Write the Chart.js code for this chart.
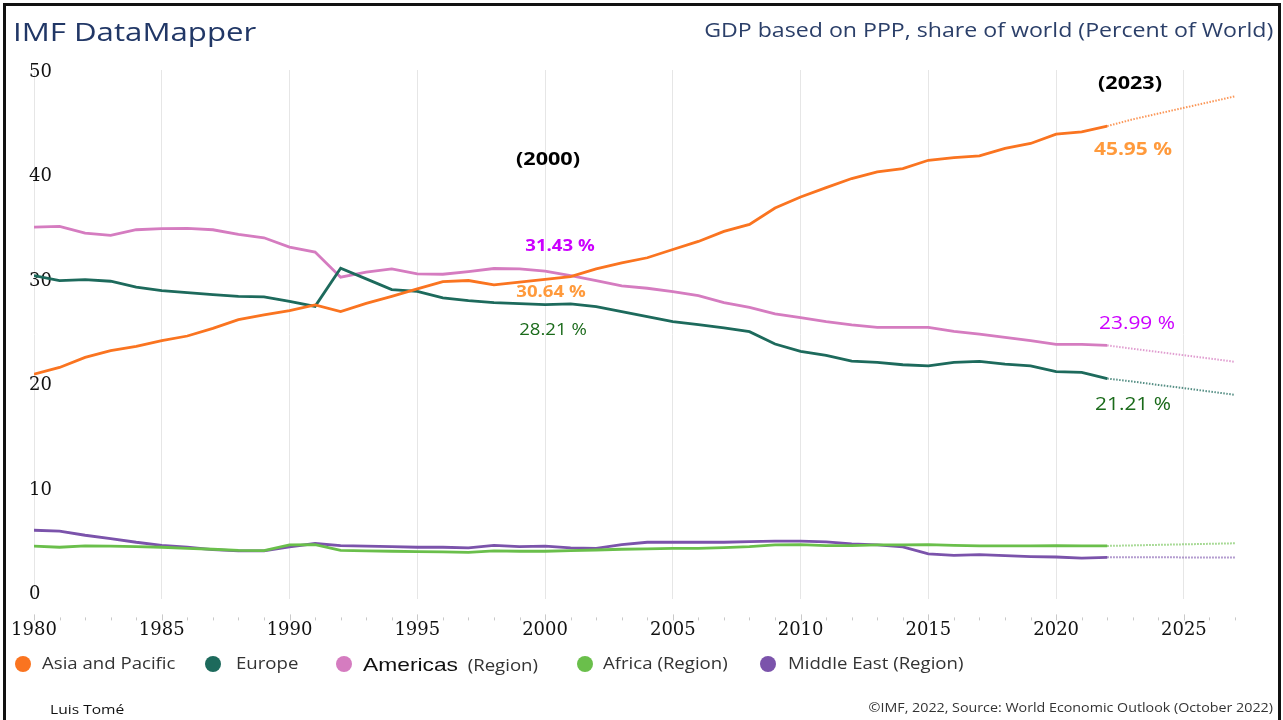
<!DOCTYPE html>
<html>
<head>
<meta charset="utf-8">
<title>GDP based on PPP, share of world</title>
<script src="https://cdn.jsdelivr.net/npm/chart.js@4.4.0/dist/chart.umd.min.js"></script>
<style>
  html, body { margin: 0; padding: 0; background: #fff; }
  #page { position: relative; width: 1283px; height: 720px; overflow: hidden; font-family: "Open Sans", sans-serif; }
  #frame { position: absolute; left: 3px; top: 3px; width: 1278px; height: 800px; border: 3px solid #111; box-sizing: border-box; pointer-events: none; }
  #chart { position: absolute; left: 0; top: 0; }
  .txt { position: absolute; white-space: nowrap; line-height: 1; }
  .ctr { transform: translate(-50%, -50%) scaleX(1.2); transform-origin: center center; }
  .lft { transform: translateY(-50%) scaleX(1.2); transform-origin: left center; }
  .rgt { transform: translateY(-50%) scaleX(1.2); transform-origin: right center; }
  .dot { position: absolute; width: 16px; height: 16px; border-radius: 50%; transform: translate(-50%, -50%); }
</style>
</head>
<body>
<div id="page">
  <canvas id="chart" width="1283" height="720"></canvas>

  <div class="txt lft" style="left:13px; top:31px; font-size:26px; color:#213766;">IMF DataMapper</div>
  <div class="txt rgt" style="right:10px; top:30px; font-size:19.3px; color:#2b3f69;">GDP based on PPP, share of world (Percent of World)</div>

  <div class="txt ctr" style="left:548px; top:158px; font-size:18px; font-weight:700; color:#000;">(2000)</div>
  <div class="txt ctr" style="left:1130px; top:82px; font-size:18px; font-weight:700; color:#000;">(2023)</div>
  <div class="txt ctr" style="left:560px; top:246px; font-size:15.5px; font-weight:700; color:#cc00ff;">31.43 %</div>
  <div class="txt ctr" style="left:551px; top:292px; font-size:15.5px; font-weight:700; color:#ff9a3c;">30.64 %</div>
  <div class="txt ctr" style="left:553px; top:330px; font-size:15.5px; color:#1a6a1a;">28.21 %</div>
  <div class="txt ctr" style="left:1133px; top:149px; font-size:17.4px; font-weight:700; color:#ff9a3c;">45.95 %</div>
  <div class="txt ctr" style="left:1137px; top:323px; font-size:17.4px; color:#cc00ff;">23.99 %</div>
  <div class="txt ctr" style="left:1133px; top:404px; font-size:17.4px; color:#1a6a1a;">21.21 %</div>

  <div id="legend"></div>

  <div class="txt lft" style="left:50px; top:709px; font-size:13px; color:#111;">Luis Tomé</div>
  <div class="txt rgt" style="right:10px; top:708px; font-size:11.9px; color:#333;">©IMF, 2022, Source: World Economic Outlook (October 2022)</div>
  <div id="frame"></div>
</div>

<script>
// years on the x axis, last actual value is 2022, after that IMF projections
const years = [
  1980, 1981, 1982, 1983, 1984, 1985, 1986, 1987, 1988, 1989,
  1990, 1991, 1992, 1993, 1994, 1995, 1996, 1997, 1998, 1999,
  2000, 2001, 2002, 2003, 2004, 2005, 2006, 2007, 2008, 2009,
  2010, 2011, 2012, 2013, 2014, 2015, 2016, 2017, 2018, 2019,
  2020, 2021, 2022, 2023, 2024, 2025, 2026, 2027
];
const lastActual = 2022;

const asiaPacific = [
  21.56, 22.20, 23.16, 23.80, 24.21, 24.76, 25.21, 25.94, 26.78, 27.23,
  27.64, 28.19, 27.54, 28.34, 29.01, 29.72, 30.42, 30.52, 30.10, 30.36,
  30.64, 30.90, 31.64, 32.21, 32.70, 33.49, 34.26, 35.22, 35.89, 37.46,
  38.51, 39.41, 40.28, 40.91, 41.24, 42.03, 42.29, 42.45, 43.16, 43.64,
  44.53, 44.75, 45.30, 45.95, 46.50, 47.05, 47.60, 48.15
];
const europe = [
  31.00, 30.52, 30.61, 30.45, 29.88, 29.56, 29.37, 29.17, 29.01, 28.95,
  28.53, 28.05, 31.70, 30.68, 29.65, 29.49, 28.86, 28.60, 28.41, 28.31,
  28.21, 28.28, 28.02, 27.54, 27.06, 26.58, 26.30, 25.98, 25.62, 24.44,
  23.73, 23.35, 22.81, 22.68, 22.46, 22.36, 22.68, 22.78, 22.52, 22.36,
  21.81, 21.72, 21.14, 20.85, 20.53, 20.22, 19.90, 19.58
];
const americas = [
  35.63, 35.70, 35.06, 34.84, 35.38, 35.48, 35.51, 35.38, 34.93, 34.61,
  33.72, 33.24, 30.84, 31.32, 31.64, 31.16, 31.12, 31.38, 31.67, 31.64,
  31.43, 31.00, 30.52, 30.00, 29.78, 29.46, 29.08, 28.41, 27.96, 27.32,
  26.97, 26.58, 26.27, 26.04, 26.04, 26.04, 25.66, 25.40, 25.08, 24.76,
  24.41, 24.41, 24.31, 23.99, 23.68, 23.37, 23.06, 22.74
];
const africa = [
  5.09, 4.99, 5.12, 5.09, 5.05, 4.99, 4.89, 4.80, 4.70, 4.67,
  5.21, 5.25, 4.70, 4.64, 4.61, 4.58, 4.54, 4.51, 4.64, 4.61,
  4.61, 4.67, 4.73, 4.80, 4.83, 4.89, 4.89, 4.96, 5.05, 5.21,
  5.25, 5.15, 5.15, 5.21, 5.21, 5.25, 5.18, 5.12, 5.12, 5.12,
  5.15, 5.12, 5.12, 5.17, 5.22, 5.27, 5.32, 5.37
];
const middleEast = [
  6.62, 6.53, 6.14, 5.82, 5.47, 5.18, 4.99, 4.77, 4.64, 4.64,
  5.02, 5.35, 5.15, 5.09, 5.05, 4.99, 4.99, 4.93, 5.18, 5.05,
  5.09, 4.93, 4.89, 5.25, 5.47, 5.47, 5.47, 5.47, 5.53, 5.57,
  5.57, 5.50, 5.31, 5.21, 5.02, 4.35, 4.22, 4.29, 4.19, 4.10,
  4.06, 3.96, 4.03, 4.03, 4.03, 4.02, 4.02, 4.02
];

const seriesNames = ['Asia and Pacific', 'Europe', 'Americas (Region)', 'Africa (Region)', 'Middle East (Region)'];
const seriesValues = [asiaPacific, europe, americas, africa, middleEast];
const seriesColors = ['#fa7420', '#1d6a5c', '#d57cc0', '#6abf4b', '#7b53ab'];
const projColors = ['rgba(250,116,32,0.75)', 'rgba(29,106,92,0.75)', 'rgba(213,124,192,0.75)', 'rgba(106,191,75,0.75)', 'rgba(123,83,171,0.75)'];

const xTicks = [1980, 1985, 1990, 1995, 2000, 2005, 2010, 2015, 2020, 2025];
const yTicks = [0, 10, 20, 30, 40, 50];

// legend is html because "Americas" uses a different font in the original
const legendDotX = [23, 213, 344, 585, 768];
const legendTextX = [42, 236, 363, 603, 788];
const legend = document.getElementById('legend');
seriesNames.forEach((name, i) => {
  const dot = document.createElement('div');
  dot.className = 'dot';
  dot.style.left = legendDotX[i] + 'px';
  dot.style.top = '664px';
  dot.style.background = seriesColors[i];
  legend.appendChild(dot);

  const label = document.createElement('div');
  label.className = 'txt lft';
  label.style.left = legendTextX[i] + 'px';
  label.style.top = '664px';
  label.style.fontSize = '15.5px';
  label.style.color = '#333';
  if (name.startsWith('Americas')) {
    label.innerHTML = '<span style="font-family:\'Liberation Sans\',Arial,sans-serif;font-size:19px;color:#111;">Americas</span>&nbsp;&nbsp;(Region)';
  } else {
    label.textContent = name;
  }
  legend.appendChild(label);
});

function pointsFor(values, fromYear, toYear) {
  const pts = [];
  years.forEach((yr, i) => {
    if (yr >= fromYear && yr <= toYear) pts.push({ x: yr, y: values[i] });
  });
  return pts;
}

const datasets = [];
seriesValues.forEach((vals, i) => {
  datasets.push({
    label: seriesNames[i],
    data: pointsFor(vals, years[0], lastActual),
    borderColor: seriesColors[i],
    borderWidth: 2.8,
    pointRadius: 0,
    tension: 0
  });
  datasets.push({
    label: seriesNames[i] + ' projection',
    data: pointsFor(vals, lastActual, years[years.length - 1]),
    borderColor: projColors[i],
    borderWidth: 2,
    borderDash: [1.5, 1.5],
    pointRadius: 0,
    tension: 0
  });
});

// small tick marks for every year, drawn a little below the plot like the original
const yearTicks = {
  id: 'yearTicks',
  afterDraw(chart) {
    const xs = chart.scales.x;
    const ctx = chart.ctx;
    const base = chart.chartArea.bottom + 21;
    ctx.save();
    ctx.strokeStyle = '#c9c9c9';
    ctx.lineWidth = 1;
    years.forEach(yr => {
      const px = Math.round(xs.getPixelForValue(yr)) + 0.5;
      const len = xTicks.includes(yr) ? 6 : 3;
      ctx.beginPath();
      ctx.moveTo(px, base - len);
      ctx.lineTo(px, base);
      ctx.stroke();
    });
    ctx.restore();
  }
};

new Chart(document.getElementById('chart'), {
  type: 'line',
  data: { datasets: datasets },
  plugins: [yearTicks],
  options: {
    responsive: false,
    animation: false,
    devicePixelRatio: 1,
    layout: { padding: { left: 34, right: 48, top: 70, bottom: 76 } },
    plugins: {
      legend: { display: false },
      tooltip: { enabled: false }
    },
    scales: {
      x: {
        type: 'linear',
        min: 1980,
        max: 2027,
        afterBuildTicks: scale => { scale.ticks = xTicks.map(v => ({ value: v })); },
        ticks: {
          autoSkip: false,
          maxRotation: 0,
          padding: 3,
          color: '#111',
          font: { family: 'DejaVu Serif', size: 18 },
          callback: v => String(v)
        },
        // invisible tick length keeps the labels clear of the plot
        grid: { color: '#e6e6e6', lineWidth: 1, drawTicks: true, tickLength: 17, tickColor: 'rgba(0,0,0,0)' },
        border: { display: false }
      },
      y: {
        min: 0,
        max: 50.67,
        afterBuildTicks: scale => { scale.ticks = yTicks.map(v => ({ value: v })); },
        afterFit: scale => { scale.width = 0; },
        ticks: {
          mirror: true,
          padding: -5,
          labelOffset: -5,
          color: '#111',
          font: { family: 'DejaVu Serif', size: 18 }
        },
        grid: { display: false, drawTicks: false },
        border: { display: false }
      }
    }
  }
});
</script>
</body>
</html>
